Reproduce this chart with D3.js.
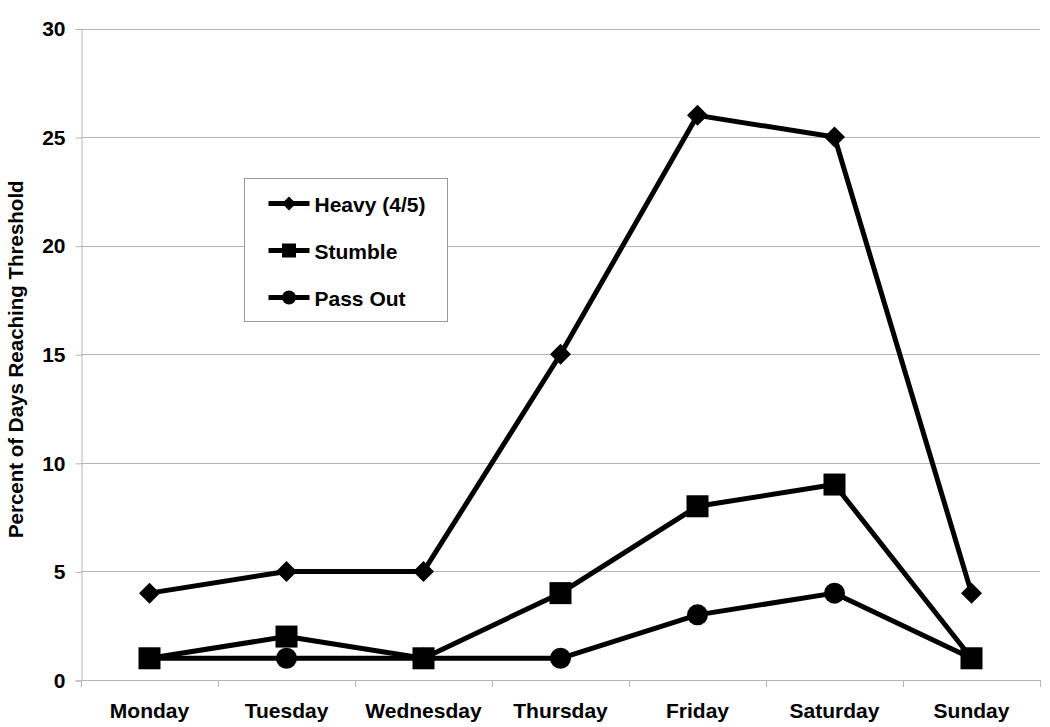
<!DOCTYPE html>
<meta charset="utf-8">
<script src="https://cdn.jsdelivr.net/npm/d3@7"></script>
<style>
body { margin: 0; background: #fff; }
text { font-family: "Liberation Sans", Arial, sans-serif; font-weight: bold; fill: #000; }
</style>
<svg width="1050" height="727"></svg>
<script>
// data
var days = ["Monday", "Tuesday", "Wednesday", "Thursday", "Friday", "Saturday", "Sunday"];
var heavy = [4, 5, 5, 15, 26, 25, 4];
var stumble = [1, 2, 1, 4, 8, 9, 1];
var passOut = [1, 1, 1, 1, 3, 4, 1];
var yTicks = [0, 5, 10, 15, 20, 25, 30];

var series = [
    {name: "Heavy (4/5)", values: heavy, shape: "diamond"},
    {name: "Stumble", values: stumble, shape: "square"},
    {name: "Pass Out", values: passOut, shape: "circle"}
];

var svg = d3.select("svg");
var plotL = 81, plotR = 1040, plotT = 28.5, plotB = 680;

var x = d3.scaleBand().domain(days).range([plotL, plotR]);
var y = d3.scaleLinear().domain([0, 30]).range([plotB, plotT]);

// gridlines
svg.append("g").selectAll("line")
    .data(yTicks.filter(function(d) { return d > 0; }))
    .enter().append("line")
    .attr("x1", plotL).attr("x2", plotR)
    .attr("y1", function(d) { return Math.round(y(d)) + 0.5; })
    .attr("y2", function(d) { return Math.round(y(d)) + 0.5; })
    .attr("stroke", "#b4b4b4").attr("stroke-width", 1);

// y axis
var yAxis = svg.append("g")
    .attr("transform", "translate(" + (plotL + 0.5) + ",0.5)")
    .call(d3.axisLeft(y).tickValues(yTicks).tickSize(6).tickPadding(10));
yAxis.select(".domain").attr("stroke", "#b4b4b4");
yAxis.selectAll(".tick line").attr("stroke", "#b4b4b4");
yAxis.selectAll("text").style("font-size", "21px").attr("fill", "#000");

// x axis
var xAxis = svg.append("g")
    .attr("transform", "translate(0," + (plotB + 0.5) + ")")
    .call(d3.axisBottom(x).tickSize(0).tickPadding(23));
xAxis.select(".domain").attr("stroke", "#b4b4b4").attr("d", "M" + plotL + ",0H" + plotR);
xAxis.selectAll("text").style("font-size", "21px").attr("fill", "#000");
// tick marks between categories
svg.append("g").selectAll("line")
    .data(d3.range(days.length + 1))
    .enter().append("line")
    .attr("x1", function(i) { return Math.round(plotL + i * x.step()) + 0.5; })
    .attr("x2", function(i) { return Math.round(plotL + i * x.step()) + 0.5; })
    .attr("y1", plotB).attr("y2", plotB + 7)
    .attr("stroke", "#b4b4b4");

// y label
svg.append("text")
    .attr("transform", "translate(23," + ((plotT + plotB) / 2 + 5) + ") rotate(-90)")
    .attr("text-anchor", "middle")
    .style("font-size", "20.5px")
    .text("Percent of Days Reaching Threshold");

function marker(g, shape, size) {
    if (shape === "diamond") {
        g.append("path").attr("d", "M0," + (-size) + "L" + size + ",0L0," + size + "L" + (-size) + ",0Z");
    } else if (shape === "square") {
        g.append("rect").attr("x", -size).attr("y", -size).attr("width", 2 * size).attr("height", 2 * size);
    } else {
        g.append("circle").attr("r", size);
    }
}

var line = d3.line()
    .x(function(d, i) { return x(days[i]) + x.bandwidth() / 2; })
    .y(function(d) { return y(d); });

var sizes = {diamond: 10.5, square: 11, circle: 10.5};

series.forEach(function(s) {
    svg.append("path")
        .attr("d", line(s.values))
        .attr("fill", "none").attr("stroke", "#000").attr("stroke-width", 5)
        .attr("stroke-linejoin", "round");
    s.values.forEach(function(v, i) {
        var g = svg.append("g")
            .attr("transform", "translate(" + (x(days[i]) + x.bandwidth() / 2) + "," + y(v) + ")")
            .attr("fill", "#000");
        marker(g, s.shape, sizes[s.shape]);
    });
});

// legend
var legend = svg.append("g").attr("transform", "translate(244.5,178.5)");
legend.append("rect").attr("width", 203).attr("height", 143)
    .attr("fill", "#fff").attr("stroke", "#999");
var legSizes = {diamond: 7, square: 7, circle: 7};
series.forEach(function(s, i) {
    var cy = 25 + i * 47;
    legend.append("line").attr("x1", 24).attr("x2", 65).attr("y1", cy).attr("y2", cy)
        .attr("stroke", "#000").attr("stroke-width", 5);
    var g = legend.append("g").attr("transform", "translate(44.5," + cy + ")").attr("fill", "#000");
    marker(g, s.shape, legSizes[s.shape]);
    legend.append("text").attr("x", 70).attr("y", cy + 8)
        .style("font-size", "21px").text(s.name);
});
</script>
